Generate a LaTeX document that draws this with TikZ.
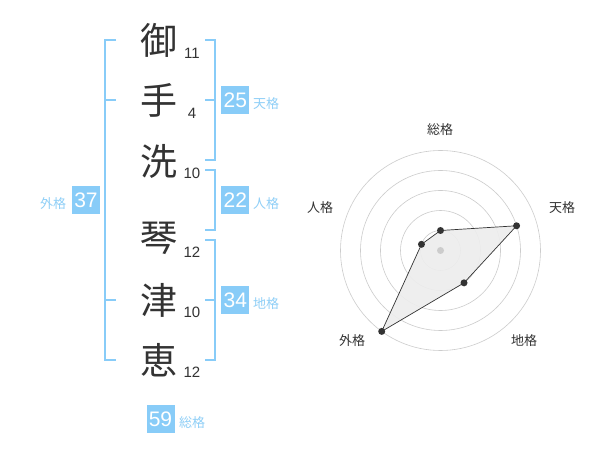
\documentclass[tikz,border=0pt]{standalone}
\usepackage{fontspec}
\setmainfont{Liberation Sans}
\newfontfamily\jp{Noto Sans CJK JP}
\definecolor{brk}{HTML}{88CCF8}
\definecolor{lbl}{HTML}{8FCFF7}
\definecolor{ink}{HTML}{333333}
\definecolor{grid}{HTML}{CCCCCC}
\begin{document}
\begin{tikzpicture}[x=1pt,y=-1pt,
  kanji/.style={font=\jp\fontsize{37}{37}\selectfont, text=ink, inner sep=0pt},
  strokes/.style={font=\fontsize{15}{15}\selectfont, text=ink, inner sep=0pt},
  numbox/.style={fill=brk, minimum width=28pt, minimum height=28pt, inner sep=0pt, text=white, font=\fontsize{21}{21}\selectfont},
  kaku/.style={font=\jp\fontsize{13}{13}\selectfont, text=lbl, inner sep=0pt},
  rlabel/.style={font=\jp\fontsize{13}{13}\selectfont, text=ink, inner sep=0pt},
  bracket/.style={draw=brk, line width=2pt},
  ring/.style={draw=grid, line width=0.6pt},
  dot/.style={circle, fill=ink, minimum size=7pt, inner sep=0pt},
]
\useasboundingbox (0,0) rectangle (600,470);
\fill[white] (0,0) rectangle (600,470);

% characters
\node[kanji] (c1) at (159,40) {御};
\node[kanji] (c2) at (159,100) {手};
\node[kanji] (c3) at (159,161) {洗};
\node[kanji] (c4) at (159,238) {琴};
\node[kanji] (c5) at (159,300) {津};
\node[kanji] (c6) at (159,360) {恵};
\node[strokes] (s1) at (192,53) {11};
\node[strokes] (s2) at (192,113) {4};
\node[strokes] (s3) at (192,173) {10};
\node[strokes] (s4) at (192,252) {12};
\node[strokes] (s5) at (192,312) {10};
\node[strokes] (s6) at (192,372) {12};

% brackets
\draw[bracket] (116,40) -- (105,40) -- (105,360) -- (116,360);
\draw[bracket] (105,100) -- (116,100);
\draw[bracket] (105,300) -- (116,300);
\draw[bracket] (205,40) -- (215,40) -- (215,160) -- (205,160);
\draw[bracket] (205,100) -- (215,100);
\draw[bracket] (205,170) -- (215,170) -- (215,230) -- (205,230);
\draw[bracket] (205,240) -- (215,240) -- (215,360) -- (205,360);
\draw[bracket] (205,300) -- (215,300);

% boxes and labels
\node[numbox] (b1) at (235.3,100) {25};
\node[kaku] (k1) at (266,104) {天格};
\node[numbox] (b2) at (235.3,200) {22};
\node[kaku] (k2) at (266,204) {人格};
\node[numbox] (b3) at (235.3,300) {34};
\node[kaku] (k3) at (266,304) {地格};
\node[numbox] (b4) at (86,200) {37};
\node[kaku] (k4) at (53,204) {外格};
\node[numbox] (b5) at (160.5,419) {59};
\node[kaku] (k5) at (192,423) {総格};

% radar
\begin{scope}[shift={(440.5,250.5)}]
  \foreach \r in {20,40,60,80,100} \draw[ring] (0,0) circle[radius=\r pt];
  \fill[black!7, opacity=0.9] (90:20pt) -- (18:80pt) -- (-54:40pt) -- (-126:100pt) -- (162:20pt) -- cycle;
  \node[circle, fill=grid, minimum size=7pt, inner sep=0pt] (ctr) at (0,0) {};
  \node[dot] (p1) at (90:20pt) {};
  \node[dot] (p2) at (18:80pt) {};
  \node[dot] (p3) at (-54:40pt) {};
  \node[dot] (p4) at (-126:100pt) {};
  \node[dot] (p5) at (162:20pt) {};
  \draw[ink, line width=0.7pt] (p1.center) -- (p2.center) -- (p3.center) -- (p4.center) -- (p5.center) -- (p1.center);
\end{scope}
\node[rlabel] (r1) at (440,130) {総格};
\node[rlabel] (r2) at (562,208) {天格};
\node[rlabel] (r3) at (320,208) {人格};
\node[rlabel] (r4) at (524,341) {地格};
\node[rlabel] (r5) at (352,341) {外格};
\end{tikzpicture}
\end{document}
